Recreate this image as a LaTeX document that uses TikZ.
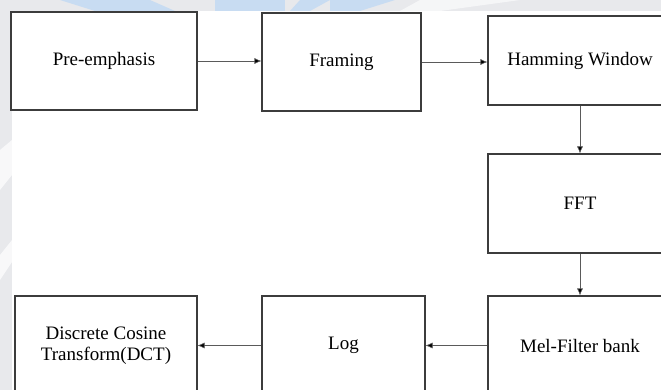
\documentclass[tikz,border=0pt]{standalone}
\usepackage{fontspec}
\setmainfont{Liberation Serif}
\usetikzlibrary{arrows.meta,positioning}
\definecolor{boxline}{RGB}{60,60,60}
\definecolor{arrline}{RGB}{90,90,90}
\definecolor{wmblue}{RGB}{200,220,242}
\definecolor{wmgray}{RGB}{232,233,236}

\tikzset{
  stagebox/.style={draw=boxline,line width=1.1pt,fill=white,minimum height=98pt,
    align=center,font=\fontsize{19}{21}\selectfont,inner sep=0pt},
  flowarr/.style={draw=arrline,line width=0.6pt,-{Latex[length=7pt,width=6pt,fill=black]}}
}

\begin{document}
\begin{tikzpicture}[x=1pt,y=-1pt]

    \useasboundingbox (0,0) rectangle (661,390);

    % 水印底色

    \fill[wmgray] (0,0) rectangle (661,390);

    \fill[wmblue] (60,0) -- (150,0) -- (175,11) -- (95,11) -- cycle;

    \fill[wmblue] (215,0) -- (285,0) -- (285,11) -- (215,11) -- cycle;

    \fill[wmblue] (300,0) -- (330,0) -- (310,11) -- (290,11) -- cycle;

    \fill[wmblue] (330,0) -- (395,0) -- (360,11) -- (330,11) -- cycle;

    \fill[white,opacity=0.6] (420,0) -- (520,0) -- (440,11) -- (400,11) -- cycle;

    \fill[white,opacity=0.7] (0,150) -- (12,140) -- (12,175) -- (0,190) -- cycle;

    \fill[white,opacity=0.7] (0,255) -- (12,240) -- (12,262) -- (0,280) -- cycle;

    % 白色画面

    \fill[white] (12,11) rectangle (661,390);

    % 上排

    \node[stagebox,minimum width=186pt] (preemph) at (104,61) {Pre-emphasis};

    \node[stagebox,minimum width=159pt] (framing) at (341.5,62) {Framing};

    \node[stagebox,minimum width=184pt,minimum height=89pt] (hamming) at (580,60.5) {Hamming Window};

    % 右列

    \node[stagebox,minimum width=184pt,minimum height=99pt] (fft) at (580,203.5) {FFT};

    % 下排

    \node[stagebox,minimum width=184pt,minimum height=99pt] (melbank) at (580,345.5) {Mel-Filter bank};

    \node[stagebox,minimum width=163pt,minimum height=99pt] (logbox) at (343.5,345.5) {Log};

    \node[stagebox,minimum width=182pt,minimum height=99pt] (dct) at (106,345.5) {Discrete Cosine\\Transform(DCT)};

    % 连线

    \draw[flowarr] (preemph.east) -- (preemph.east -| framing.west);

    \draw[flowarr] (framing.east) -- (framing.east -| hamming.west);

    \draw[flowarr] (hamming) -- (fft);

    \draw[flowarr] (fft) -- (melbank);

    \draw[flowarr] (melbank) -- (logbox);

    \draw[flowarr] (logbox) -- (dct);

  \end{tikzpicture}
\end{document}
